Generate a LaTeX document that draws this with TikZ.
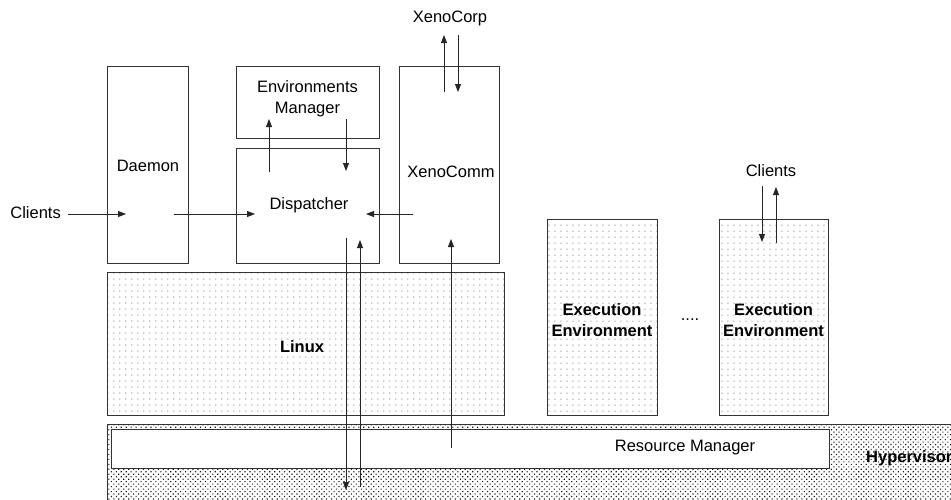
\documentclass[tikz,border=0pt]{standalone}
\usepackage{fontspec}
\setmainfont{Liberation Sans}
\usetikzlibrary{arrows.meta,patterns.meta}
\tikzset{
  box/.style={draw=black!80, line width=0.9pt, rectangle, inner sep=0pt},
  sparse/.style={pattern={Dots[distance=6.4pt, radius=0.55pt]}, pattern color=black!85},
  dense/.style={pattern={Dots[distance=3.5pt, radius=0.8pt, angle=45]}, pattern color=black!90},
  txt/.style={font=\fontsize{16.5}{21}\selectfont, inner sep=0pt, align=center},
  btxt/.style={font=\fontsize{16.5}{21}\selectfont\bfseries, inner sep=0pt, align=center},
  arr/.style={draw=black!85, line width=0.9pt, -{Triangle[length=8pt,width=6pt]}}
}
\begin{document}
\begin{tikzpicture}[x=1pt,y=-1pt]
\clip (0,0) rectangle (951,499);
\fill[white] (0,0) rectangle (951,499);
% top boxes
\node[box, minimum width=81, minimum height=197] (daemon) at (147.5,164.5) {};
\node[txt] (daemonT) at (148,166) {Daemon};
\node[box, minimum width=143, minimum height=72] (envm) at (307.5,102) {};
\node[txt] (envmT) at (307.5,99) {Environments\\Manager};
\node[box, minimum width=143, minimum height=115] (disp) at (307.5,205.5) {};
\node[txt] (dispT) at (309,205) {Dispatcher};
\node[box, minimum width=100, minimum height=197] (xcomm) at (449,164.5) {};
\node[txt] (xcommT) at (451,172) {XenoComm};
% layers
\node[box, sparse, minimum width=397, minimum height=143] (linux) at (305.5,343.5) {};
\node[btxt] (linuxT) at (302,347) {Linux};
\node[box, sparse, minimum width=110, minimum height=196] (ee1box) at (602,317) {};
\node[btxt] (ee1T) at (602,320) {Execution\\Environment};
\node[box, sparse, minimum width=109, minimum height=196] (ee2box) at (773.5,317) {};
\node[btxt] (ee2T) at (773.5,320) {Execution\\Environment};
\node[txt] (dots) at (690,320) {....};
\node[box, dense, minimum width=853, minimum height=86] (hyp) at (533.5,467) {};
\node[box, fill=white, minimum width=718, minimum height=39] (rm) at (470,448.5) {};
\node[txt] (rmT) at (685,448) {Resource Manager};
\node[btxt, anchor=west] (hypT) at (866,458) {Hypervisor};
% external labels
\node[txt] (xcorp) at (450,18) {XenoCorp};
\node[txt, anchor=east] (clientsL) at (61,213) {Clients};
\node[txt] (clientsT) at (771,171) {Clients};
% coordinates
\coordinate (cl1) at (68,214); \coordinate (dm1) at (126,214);
\coordinate (dm2) at (174,214); \coordinate (dp1) at (255,214);
\coordinate (xc1) at (413,214); \coordinate (dp2) at (366,214);
\coordinate (dp3) at (269,172); \coordinate (em1) at (269,119);
\coordinate (em2) at (346,119); \coordinate (dp4) at (346,171);
\coordinate (xc2) at (444,92); \coordinate (xp1) at (444,35);
\coordinate (xp2) at (458,35); \coordinate (xc3) at (458,92);
\coordinate (dp5) at (346,238); \coordinate (hv1) at (346,490);
\coordinate (hv2) at (360,487); \coordinate (dp6) at (360,240);
\coordinate (rm1) at (451,448); \coordinate (xc4) at (451,239);
\coordinate (cl2) at (762,186); \coordinate (ee1) at (762,242);
\coordinate (ee2) at (776,243); \coordinate (cl3) at (776,187);
% arrows
\draw[arr] (cl1) -- (dm1);
\draw[arr] (dm2) -- (dp1);
\draw[arr] (xc1) -- (dp2);
\draw[arr] (dp3) -- (em1);
\draw[arr] (em2) -- (dp4);
\draw[arr] (xc2) -- (xp1);
\draw[arr] (xp2) -- (xc3);
\draw[arr] (dp5) -- (hv1);
\draw[arr] (hv2) -- (dp6);
\draw[arr] (rm1) -- (xc4);
\draw[arr] (cl2) -- (ee1);
\draw[arr] (ee2) -- (cl3);
\end{tikzpicture}
\end{document}
